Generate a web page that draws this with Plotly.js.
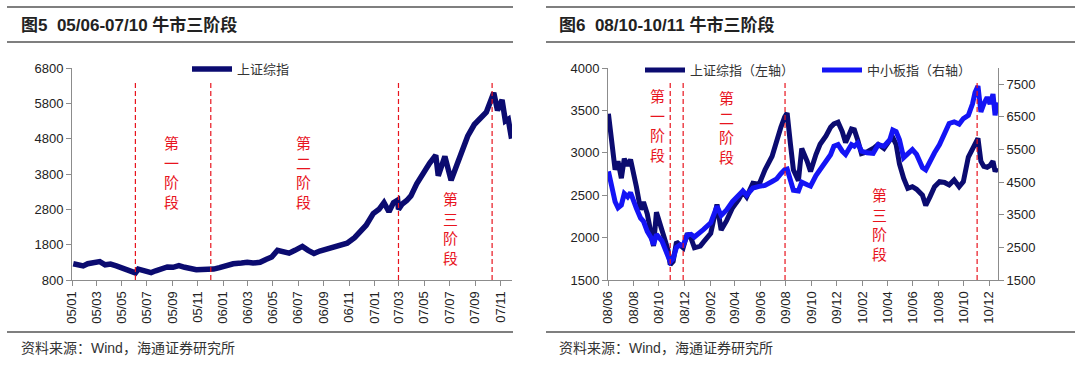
<!DOCTYPE html>
<html>
<head>
<meta charset="utf-8">
<script src="https://cdn.plot.ly/plotly-3.0.1.min.js"></script>
<style>html,body{margin:0;padding:0;background:#fff;}#chart{width:1080px;height:370px;}</style>
</head>
<body>
<div id="chart"></div>
<script>
// ---------- Figure 5 data: 上证综指 2005-01 .. 2007-11 ----------
const dates1 = ['2005-01-04','2005-01-18','2005-01-28','2005-02-08','2005-02-25','2005-03-09','2005-03-22','2005-04-04','2005-04-18','2005-04-29',
'2005-05-16','2005-05-27','2005-06-03','2005-06-10','2005-06-24','2005-07-11','2005-07-22','2005-08-05','2005-08-19','2005-09-02',
'2005-09-16','2005-09-30','2005-10-14','2005-10-28','2005-11-11','2005-11-25','2005-12-09','2005-12-23','2006-01-10','2006-01-25',
'2006-02-14','2006-02-28','2006-03-14','2006-03-31','2006-04-14','2006-04-28','2006-05-12','2006-05-26','2006-06-09','2006-06-23',
'2006-07-11','2006-07-25','2006-08-08','2006-08-22','2006-09-08','2006-09-22','2006-10-13','2006-10-27','2006-11-14','2006-11-28',
'2006-12-12','2006-12-29','2007-01-12','2007-01-24','2007-02-05','2007-02-16','2007-02-26','2007-02-28','2007-03-09','2007-03-20',
'2007-03-30','2007-04-13','2007-04-27','2007-05-14','2007-05-29','2007-06-04','2007-06-20','2007-07-05','2007-07-17','2007-07-31',
'2007-08-14','2007-08-30','2007-09-14','2007-09-28','2007-10-16','2007-10-25','2007-11-05','2007-11-13','2007-11-20','2007-11-28'];
const sh1 = [1260,1220,1200,1260,1300,1320,1230,1250,1200,1160,
1100,1060,1000,1110,1070,1010,1060,1110,1170,1160,
1210,1160,1130,1090,1100,1090,1110,1150,1210,1260,
1280,1300,1280,1300,1380,1450,1640,1600,1560,1640,
1750,1640,1550,1620,1680,1750,1800,1840,2000,2150,
2350,2680,2800,2990,2730,2990,3060,2800,2950,3050,
3180,3520,3800,4100,4330,3750,4300,3620,4000,4470,
4870,5200,5400,5550,6100,5600,5900,5300,5350,4800];
const stages1 = ['2005-06-03','2005-12-02','2007-02-28','2007-10-12'];
const ticks1Y = [800,1800,2800,3800,4800,5800,6800];

// ---------- Figure 6 data: 上证综指 / 中小板指 2008-06 .. 2010-12 ----------
const dates2 = ['2008-06-02','2008-06-10','2008-06-18','2008-06-25','2008-07-03','2008-07-10','2008-07-18','2008-07-25','2008-08-01','2008-08-08',
'2008-08-18','2008-08-25','2008-09-03','2008-09-12','2008-09-18','2008-09-25','2008-10-08','2008-10-16','2008-10-23','2008-10-28',
'2008-11-04','2008-11-12','2008-11-21','2008-11-28','2008-12-08','2008-12-17','2008-12-25','2009-01-08','2009-01-16','2009-02-02',
'2009-02-17','2009-02-27','2009-03-12','2009-03-26','2009-04-10','2009-04-20','2009-04-29','2009-05-14','2009-05-29','2009-06-12',
'2009-06-29','2009-07-10','2009-07-20','2009-07-29','2009-08-04','2009-08-12','2009-08-19','2009-08-31','2009-09-08','2009-09-21',
'2009-09-29','2009-10-12','2009-10-22','2009-11-05','2009-11-16','2009-11-24','2009-12-04','2009-12-14','2009-12-22','2010-01-05',
'2010-01-12','2010-01-20','2010-01-29','2010-02-11','2010-02-26','2010-03-10','2010-03-24','2010-04-07','2010-04-14','2010-04-22',
'2010-04-30','2010-05-10','2010-05-20','2010-05-31','2010-06-10','2010-06-24','2010-07-02','2010-07-12','2010-07-23','2010-08-04',
'2010-08-16','2010-08-27','2010-09-08','2010-09-20','2010-09-30','2010-10-12','2010-10-22','2010-10-28','2010-11-04','2010-11-11',
'2010-11-18','2010-11-26','2010-12-03','2010-12-10','2010-12-15','2010-12-20'];
const sh2 = [3460,3100,2800,2900,2700,2930,2850,2920,2780,2600,
2330,2420,2280,2080,1900,2300,2090,1930,1850,1680,
1720,1950,1920,1880,2050,1990,1880,1900,1950,2050,
2390,2090,2200,2350,2450,2540,2480,2640,2630,2800,
2960,3150,3300,3420,3470,3100,2800,2670,3050,2900,
2780,2980,3100,3200,3300,3340,3360,3250,3120,3280,
3270,3150,2990,3010,3050,3100,3050,3150,3180,3100,
2870,2700,2580,2600,2570,2500,2380,2480,2600,2660,
2650,2620,2680,2600,2660,2950,3050,3100,3170,2900,
2840,2830,2850,2900,2780,2820];
const sme2 = [4830,4300,3900,3715,3800,4150,4050,4180,3910,3700,
3400,3300,2990,2800,2580,2900,2700,2450,2300,2060,
2150,2500,2580,2560,2880,2900,2820,2950,3050,3250,
3760,3480,3650,3900,4100,4230,4100,4320,4370,4400,
4520,4600,4760,4880,4900,4500,4250,4230,4500,4420,
4380,4700,4880,5100,5340,5600,5650,5450,5350,5650,
5600,5700,5450,5400,5380,5650,5600,5800,6100,6050,
5800,5250,5350,5500,5350,4950,4880,5150,5400,5650,
5950,6300,6350,6280,6450,6550,6900,7250,7450,6650,
6900,7100,6900,7200,6550,6950];
const stages2 = ['2008-10-28','2008-11-28','2009-07-30','2010-11-02'];
const ticks2Y = [1500,2000,2500,3000,3500,4000];
const ticks3Y = [1500,2500,3500,4500,5500,6500,7500];

const navy = '#0B0B70';
const blue = '#1414F5';
const red = '#E8141E';
const axisCol = '#8C8C8C';
const W = 1080, H = 370;
const px = v => v / W;
const py = v => 1 - v / H;
const tickFont = {family: 'Liberation Sans, Arial, sans-serif', size: 13, color: '#222'};
const cjk = 'Liberation Sans, Noto Sans CJK SC, sans-serif';

const traces = [
  {x: dates1, y: sh1, xaxis: 'x', yaxis: 'y', type: 'scatter', mode: 'lines', name: '上证综指',
   line: {color: navy, width: 5.5}, legend: 'legend'},
  {x: dates2, y: sh2, xaxis: 'x2', yaxis: 'y2', type: 'scatter', mode: 'lines', name: '上证综指（左轴）',
   line: {color: navy, width: 5}, legend: 'legend2'},
  {x: dates2, y: sme2, xaxis: 'x2', yaxis: 'y3', type: 'scatter', mode: 'lines', name: '中小板指（右轴）',
   line: {color: blue, width: 5}, legend: 'legend2'}
];

const baseX = {type: 'date', tickformat: '%y/%m', dtick: 'M2', tickangle: -90, ticks: 'outside', ticklen: 5,
  tickcolor: axisCol, showline: true, linecolor: axisCol, linewidth: 1, showgrid: false, zeroline: false,
  tickfont: tickFont, fixedrange: true};
const baseY = {ticks: 'outside', ticklen: 5, tickcolor: axisCol, showline: true, linecolor: axisCol, linewidth: 1,
  showgrid: false, zeroline: false, tickfont: tickFont, fixedrange: true};

const shapes = [];
function rule(x0, x1, y, w) {
  shapes.push({type: 'line', xref: 'paper', yref: 'paper', x0: px(x0), x1: px(x1), y0: py(y), y1: py(y),
    line: {color: '#555', width: w}});
}
rule(7, 513, 7, 1.5); rule(7, 513, 42, 1.5); rule(7, 513, 332, 1.5);
rule(546, 1075, 7, 1.5); rule(546, 1075, 42, 1.5); rule(546, 1075, 332, 1.5);
stages1.forEach(d => shapes.push({type: 'line', xref: 'x', yref: 'y domain', x0: d, x1: d, y0: 0, y1: 0.943,
  line: {color: red, width: 1.2, dash: '5px,3px'}}));
stages2.forEach(d => shapes.push({type: 'line', xref: 'x2', yref: 'y2 domain', x0: d, x1: d, y0: 0, y1: 0.943,
  line: {color: red, width: 1.2, dash: '5px,3px'}}));

const annotations = [];
function txt(text, x, y, opts) {
  annotations.push(Object.assign({text: text, xref: 'paper', yref: 'paper', x: px(x), y: py(y),
    showarrow: false, xanchor: 'left', yanchor: 'middle'}, opts));
}
txt('<b>图5\u00a0\u00a005/06-07/10 牛市三阶段</b>', 19, 25, {font: {family: cjk, size: 17, color: '#222'}});
txt('<b>图6\u00a0\u00a008/10-10/11 牛市三阶段</b>', 557, 25, {font: {family: cjk, size: 17, color: '#222'}});
txt('资料来源：Wind，海通证券研究所', 19, 348, {font: {family: cjk, size: 14, color: '#333'}});
txt('资料来源：Wind，海通证券研究所', 557, 348, {font: {family: cjk, size: 14, color: '#333'}});
const stageFont = {family: 'Noto Sans CJK SC, sans-serif', size: 15, color: red};
const stageTxt = ['第<br>一<br>阶<br>段', '第<br>二<br>阶<br>段', '第<br>三<br>阶<br>段'];
txt(stageTxt[0], 171, 172, {xanchor: 'center', font: stageFont});
txt(stageTxt[1], 303, 172, {xanchor: 'center', font: stageFont});
txt(stageTxt[2], 450, 228, {xanchor: 'center', font: stageFont});
txt(stageTxt[0], 657, 125, {xanchor: 'center', font: stageFont});
txt(stageTxt[1], 726, 127, {xanchor: 'center', font: stageFont});
txt(stageTxt[2], 879, 224, {xanchor: 'center', font: stageFont});

const legFont = {family: 'Noto Sans CJK SC, sans-serif', size: 13, color: '#333'};
const layout = {
  width: W, height: H, margin: {l: 0, r: 0, t: 0, b: 0}, autosize: false,
  paper_bgcolor: '#fff', plot_bgcolor: '#fff', showlegend: true,
  xaxis: Object.assign({}, baseX, {domain: [px(72), px(512)], anchor: 'y', range: ['2005-01-01', '2007-11-29'], tick0: '2005-01-01'}),
  yaxis: Object.assign({}, baseY, {domain: [py(280), py(68)], anchor: 'x', range: [800, 6800], tickvals: ticks1Y}),
  xaxis2: Object.assign({}, baseX, {domain: [px(608), px(998)], anchor: 'y2', range: ['2008-06-01', '2010-12-22'], tick0: '2008-06-01'}),
  yaxis2: Object.assign({}, baseY, {domain: [py(280), py(68)], anchor: 'x2', range: [1500, 4000], tickvals: ticks2Y}),
  yaxis3: Object.assign({}, baseY, {overlaying: 'y2', side: 'right', anchor: 'x2', range: [1500, 8000], tickvals: ticks3Y}),
  legend: {x: px(187), y: py(69), xanchor: 'left', yanchor: 'middle', orientation: 'h', bgcolor: 'rgba(0,0,0,0)',
    font: legFont, itemwidth: 40, tracegroupgap: 0},
  legend2: {x: px(640), y: py(70), xanchor: 'left', yanchor: 'middle', orientation: 'h', bgcolor: 'rgba(0,0,0,0)',
    font: legFont, itemwidth: 40, entrywidth: 122, entrywidthmode: 'pixels'},
  shapes: shapes,
  annotations: annotations
};

Plotly.newPlot('chart', traces, layout, {displayModeBar: false, staticPlot: true});
</script>
</body>
</html>
